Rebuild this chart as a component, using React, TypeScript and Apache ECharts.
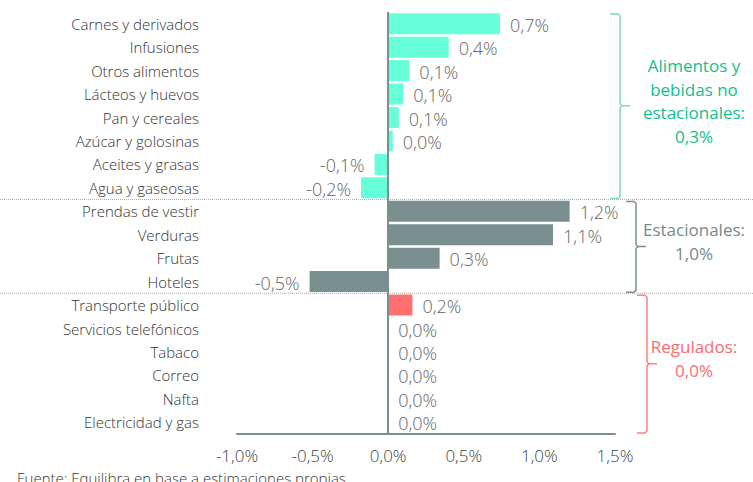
import React, { useEffect, useRef } from "react";
import * as echarts from "echarts";

const categories = [
  "Carnes y derivados",
  "Infusiones",
  "Otros alimentos",
  "Lácteos y huevos",
  "Pan y cereales",
  "Azúcar y golosinas",
  "Aceites y grasas",
  "Agua y gaseosas",
  "Prendas de vestir",
  "Verduras",
  "Frutas",
  "Hoteles",
  "Transporte público",
  "Servicios telefónicos",
  "Tabaco",
  "Correo",
  "Nafta",
  "Electricidad y gas",
];
const values = [0.74, 0.4, 0.14, 0.1, 0.07, 0.03, -0.09, -0.18, 1.2, 1.09, 0.34, -0.52, 0.16, 0, 0, 0, 0, 0];
const groupOf = [0, 0, 0, 0, 0, 0, 0, 0, 1, 1, 1, 1, 2, 2, 2, 2, 2, 2];
const groupColors = ["#66FFD9", "#7A8F8F", "#FF7070"];
const groupTextColors = ["#10BE8C", "#748A8A", "#FF6B6B"];
const groupBraceColors = ["#7DD9C0", "#7A8F8F", "#FF8080"];
const groupTexts = [
  ["Alimentos y", "bebidas no", "estacionales:", "0,3%"],
  ["Estacionales:", "1,0%"],
  ["Regulados:", "0,0%"],
];
const xTicks = { min: -1, max: 1.5, interval: 0.5 };
const sourceText = "Fuente: Equilibra en base a estimaciones propias";

const FONT = "'Open Sans', 'Liberation Sans', sans-serif";
const fmt = (v: number) => v.toFixed(1).replace(".", ",") + "%";

export default function App() {
  const ref = useRef<HTMLDivElement>(null);
  useEffect(() => {
    document.body.style.margin = "0";
    if (!ref.current) return;
    const chart = echarts.init(ref.current, null, { renderer: "svg" });
    const gridLeft = 237;
    const gridTop = 12;
    const gridW = 378;
    const gridH = 422;
    const rowH = gridH / categories.length;

    const ranges: { start: number; end: number }[] = [];
    groupOf.forEach((g, i) => {
      if (!ranges[g]) ranges[g] = { start: i, end: i };
      else ranges[g].end = i;
    });
    const braceX = [620, 636, 647];
    const graphics: any[] = [];
    ranges.forEach((r, g) => {
      const top = gridTop + r.start * rowH + 2;
      const bot = gridTop + (r.end + 1) * rowH - 1;
      const mid = gridTop + ((r.start + r.end + 1) / 2) * rowH;
      const x = braceX[g];
      graphics.push({
        type: "polyline",
        shape: {
          points: [
            [x - 10, top],
            [x - 2, top],
            [x, top + 2],
            [x, mid - 2],
            [x + 2, mid],
            [x + 10, mid],
            [x + 2, mid],
            [x, mid + 2],
            [x, bot - 2],
            [x - 2, bot],
            [x - 10, bot],
          ],
        },
        style: { stroke: groupBraceColors[g], lineWidth: 1.5, fill: null },
        silent: true,
      });
      const lines = groupTexts[g];
      const lh = 23.5;
      const blockTop = mid - 5 - (lines.length * lh) / 2;
      lines.forEach((t, k) => {
        graphics.push({
          type: "text",
          x: 694,
          y: blockTop + k * lh + lh / 2,
          style: {
            text: t,
            fill: groupTextColors[g],
            font: `400 17px ${FONT}`,
            textAlign: "center",
            textVerticalAlign: "middle",
          },
          silent: true,
        });
      });
      if (g > 0) {
        const y = gridTop + r.start * rowH;
        graphics.push({
          type: "line",
          shape: { x1: 0, y1: y, x2: 753, y2: y },
          style: { stroke: "#AAAAAA", lineWidth: 1, lineDash: [1, 1] },
          silent: true,
        });
      }
    });
    graphics.push({
      type: "text",
      x: 17,
      y: 470,
      style: { text: sourceText, fill: "#333", font: `300 15px ${FONT}` },
      silent: true,
    });

    chart.setOption({
      animation: false,
      grid: { left: gridLeft, top: gridTop, width: gridW, height: gridH, containLabel: false },
      xAxis: {
        type: "value",
        min: xTicks.min,
        max: xTicks.max,
        interval: xTicks.interval,
        axisLine: { show: true, lineStyle: { color: "#7A8F8F", width: 2 } },
        axisTick: { show: false },
        splitLine: { show: false },
        axisLabel: {
          formatter: (v: number) => fmt(v),
          color: "#444",
          fontSize: 17,
          fontWeight: 300,
          fontFamily: FONT,
          margin: 13,
        },
      },
      yAxis: {
        type: "category",
        inverse: true,
        data: categories,
        axisLine: { show: false, onZero: false },
        axisTick: { show: false },
        axisLabel: { color: "#333", fontSize: 15, fontWeight: 300, fontFamily: FONT, margin: 38 },
      },
      series: [
        {
          type: "bar",
          barWidth: 21,
          data: values.map((v, i) => ({
            value: v,
            itemStyle: { color: groupColors[groupOf[i]] },
            label: { position: v < 0 ? "left" : "right", offset: [0, 1] },
          })),
          label: {
            show: true,
            distance: 10,
            color: "#666",
            fontSize: 18,
            fontWeight: 300,
            fontFamily: FONT,
            formatter: (p: any) => fmt(p.value),
          },
          markLine: {
            silent: true,
            symbol: "none",
            label: { show: false },
            lineStyle: { color: "#7A8F8F", width: 2, type: "solid" },
            data: [{ xAxis: 0 }],
          },
        },
      ],
      graphic: graphics,
    });
    return () => chart.dispose();
  }, []);
  return <div ref={ref} style={{ width: 753, height: 482 }} />;
}
